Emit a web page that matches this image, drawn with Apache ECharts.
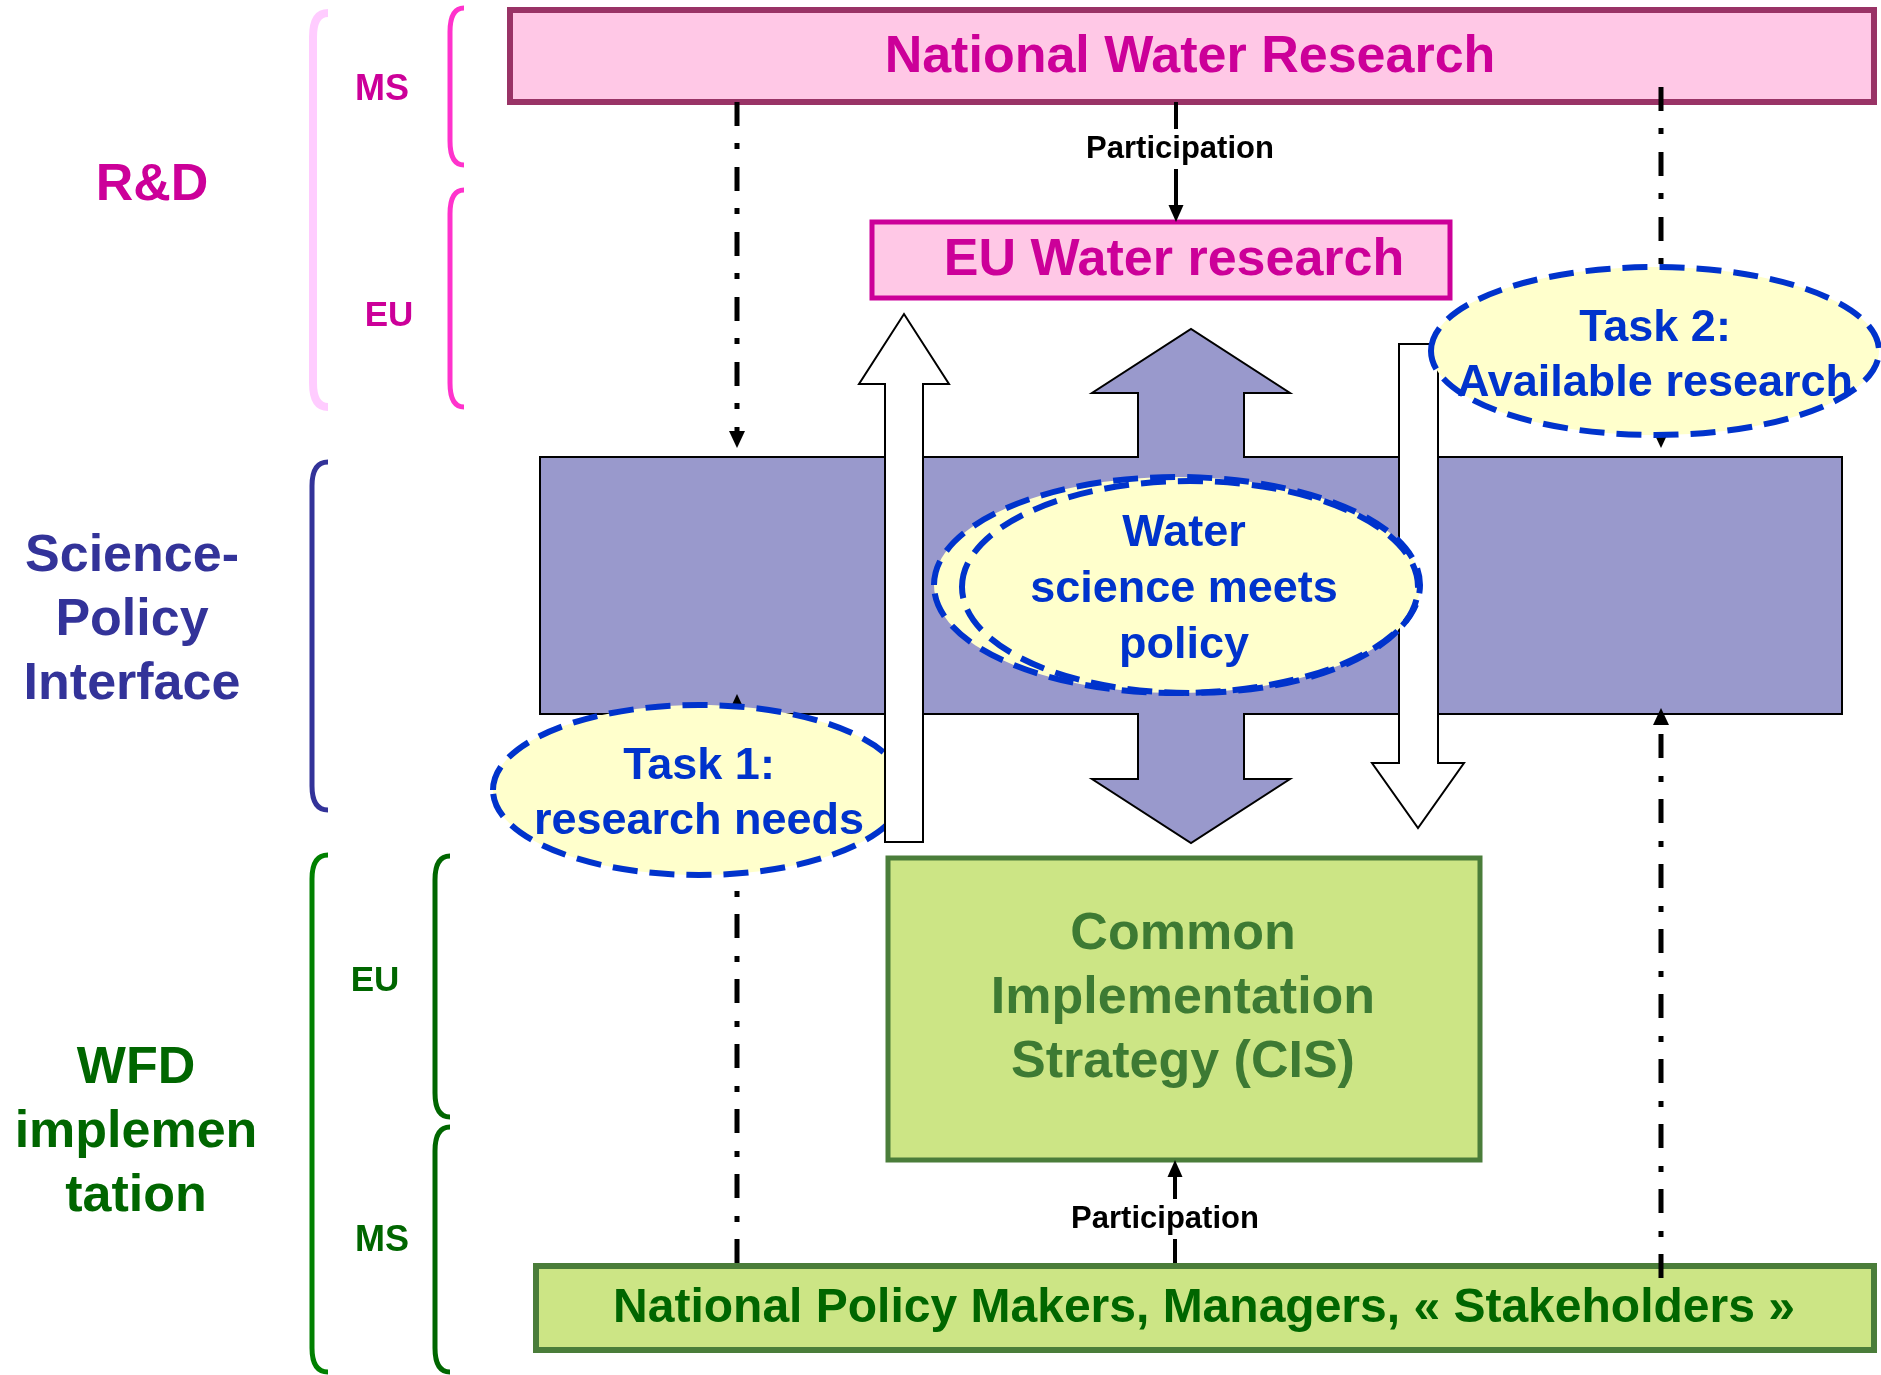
<!DOCTYPE html>
<html><head><meta charset="utf-8">
<script src="https://cdn.jsdelivr.net/npm/echarts@6/dist/echarts.min.js"></script>
<style>html,body{margin:0;padding:0;background:#fff}#c{width:1881px;height:1375px}</style>
</head><body><div id="c"></div>
<script>
// ---------- diagram data (diagram units on hidden value axes) ----------
const xExtent = [0, 1881];
const yExtent = [0, 1375];

// labelled boxes: [x0, y0, x1, y1]
const boxNames = ['National Water Research', 'EU Water research', 'Common\nImplementation\nStrategy (CIS)', 'National Policy Makers, Managers, « Stakeholders »'];
const boxExtents = [[510, 10, 1874, 102], [872, 222, 1450, 298], [888, 858, 1480, 1160], [536, 1266, 1874, 1350]];
const boxTextAnchors = [[1190, 58], [1174, 261], [1183, 999], [1204, 1309]];

// science-policy band with the double arrow through it (outline vertices)
const bandOutline = [[540, 457], [1138, 457], [1138, 393], [1092, 393], [1191, 329], [1290, 393], [1244, 393], [1244, 457], [1842, 457], [1842, 714], [1244, 714], [1244, 779], [1290, 779], [1191, 843], [1092, 779], [1138, 779], [1138, 714], [540, 714]];

// white block arrows: [shaftLeft, shaftRight, tail, headBase, headLeft, headRight, tip]
const whiteArrows = [[885, 923, 842, 384, 859, 949, 314], [1399, 1438, 344, 763, 1372, 1464, 828]];

// dash-dot arrows: [x, from, tip]
const dashArrows = [[737, 102, 448], [737, 1263, 694], [1661, 87, 448], [1661, 1278, 708]];

// participation arrows: [x, from, tip]
const participationArrows = [[1176, 102, 222], [1175, 1263, 1160]];
const participationLabels = ['Participation', 'Participation'];
const participationAnchors = [[1180, 149], [1165, 1219]];

// ellipses: [cx, cy, rx, ry]
const ellipseShapes = [[1177, 585, 243, 108], [1190, 587, 228, 106], [1655, 351, 224, 84], [699, 790, 206, 85]];
const ellipseTexts = ['Water\nscience meets\npolicy', '', 'Task 2:\nAvailable research', 'Task 1:\nresearch needs'];
const ellipseTextAnchors = [[1184, 590], [1184, 590], [1655, 356], [699, 794]];

// side braces: [lineX, top, bottom, endX]
const braces = [[313, 13, 407, 328], [450, 8, 165, 464], [450, 190, 407, 464], [312, 462, 810, 328], [312, 855, 1372, 328], [435, 856, 1117, 450], [435, 1127, 1372, 450]];

// side labels
const sideLabels = ['R&D', 'MS', 'EU', 'Science-\nPolicy\nInterface', 'WFD\nimplemen\ntation', 'EU', 'MS'];
const sideLabelAnchors = [[152, 186], [382, 90], [389, 316], [132, 621], [136, 1133], [375, 981], [382, 1241]];

// ---------- styles ----------
const FONT = '"Liberation Sans", Arial, Helvetica, sans-serif';
const boxStyles = [
  { fill: '#ffc8e6', stroke: '#993366', lw: 6, color: '#cc0099', fs: 52, lh: 60 },
  { fill: '#ffc8e6', stroke: '#cc0099', lw: 5, color: '#cc0099', fs: 52, lh: 60 },
  { fill: '#cce585', stroke: '#4a7d3a', lw: 5, color: '#3d7a33', fs: 52, lh: 64 },
  { fill: '#cce585', stroke: '#4a7d3a', lw: 6, color: '#006600', fs: 48, lh: 56 }
];
const braceColors = ['#ffccff', '#ff33cc', '#ff33cc', '#333399', '#008000', '#006600', '#006600'];
const braceWidths = [8, 5, 5, 5, 5, 5, 5];
const sideColors = ['#cc0099', '#cc0099', '#cc0099', '#333399', '#006600', '#006600', '#006600'];
const sideSizes = [52, 36, 35, 52, 52, 35, 36];

function withIndex(rows) { return rows.map((r, i) => [i].concat(r)); }
function txt(p, text, fill, size, lh, extra) {
  return {
    type: 'text', x: p[0], y: p[1],
    style: Object.assign({ text: text, fill: fill, fontSize: size, fontWeight: 'bold', fontFamily: FONT, align: 'center', verticalAlign: 'middle', lineHeight: lh || size * 1.2 }, extra || {})
  };
}
function arrowHead(api, x, tip, dir, w, len, color) {
  const a = api.coord([x, tip]);
  const b = api.coord([x - w / 2, tip - dir * len]);
  const c = api.coord([x + w / 2, tip - dir * len]);
  return { type: 'polygon', shape: { points: [a, b, c] }, style: { fill: color } };
}
function renderWhiteArrow(params, api) {
  const sL = api.value(1), sR = api.value(2), tail = api.value(3), hb = api.value(4), hL = api.value(5), hR = api.value(6), tip = api.value(7);
  const pts = [[sL, tail], [sL, hb], [hL, hb], [(hL + hR) / 2, tip], [hR, hb], [sR, hb], [sR, tail]].map(p => api.coord(p));
  return { type: 'polygon', shape: { points: pts }, style: { fill: '#ffffff', stroke: '#000', lineWidth: 2 } };
}

const chart = echarts.init(document.getElementById('c'), null, { renderer: 'canvas', width: 1881, height: 1375 });
const base = { type: 'custom', silent: true, encode: { x: 1, y: 2 }, clip: false };

chart.setOption({
  animation: false,
  backgroundColor: '#ffffff',
  grid: { left: 0, right: 0, top: 0, bottom: 0 },
  xAxis: { type: 'value', min: xExtent[0], max: xExtent[1], show: false },
  yAxis: { type: 'value', min: yExtent[0], max: yExtent[1], inverse: true, show: false },
  series: [
    Object.assign({}, base, {
      z: 1,
      data: [[0, bandOutline[0][0], bandOutline[0][1]]],
      renderItem: function (params, api) {
        return { type: 'polygon', shape: { points: bandOutline.map(p => api.coord(p)) }, style: { fill: '#9999cc', stroke: '#000', lineWidth: 2 } };
      }
    }),
    Object.assign({}, base, {
      z: 2,
      data: withIndex(boxExtents),
      renderItem: function (params, api) {
        const i = api.value(0);
        const a = api.coord([api.value(1), api.value(2)]);
        const b = api.coord([api.value(3), api.value(4)]);
        const st = boxStyles[i];
        return {
          type: 'group', children: [
            { type: 'rect', shape: { x: a[0], y: a[1], width: b[0] - a[0], height: b[1] - a[1] }, style: { fill: st.fill, stroke: st.stroke, lineWidth: st.lw } },
            txt(api.coord(boxTextAnchors[i]), boxNames[i], st.color, st.fs, st.lh)
          ]
        };
      }
    }),
    Object.assign({}, base, {
      z: 2,
      data: withIndex(braces),
      renderItem: function (params, api) {
        const i = api.value(0);
        const xl = api.value(1), yt = api.value(2), yb = api.value(3), xe = api.value(4);
        const r = 24;
        const a = api.coord([xe, yt]), c1 = api.coord([xl, yt]), b = api.coord([xl, yt + r]);
        const d = api.coord([xl, yb - r]), c2 = api.coord([xl, yb]), e = api.coord([xe, yb]);
        const pd = 'M' + a[0] + ' ' + a[1] + ' Q' + c1[0] + ' ' + c1[1] + ' ' + b[0] + ' ' + b[1] + ' L' + d[0] + ' ' + d[1] + ' Q' + c2[0] + ' ' + c2[1] + ' ' + e[0] + ' ' + e[1];
        return { type: 'path', shape: { pathData: pd }, style: { fill: 'none', stroke: braceColors[i], lineWidth: braceWidths[i] } };
      }
    }),
    Object.assign({}, base, {
      z: 2,
      data: withIndex(sideLabelAnchors),
      renderItem: function (params, api) {
        const i = api.value(0);
        return txt(api.coord([api.value(1), api.value(2)]), sideLabels[i], sideColors[i], sideSizes[i], 64);
      }
    }),
    Object.assign({}, base, {
      z: 3,
      data: withIndex(dashArrows),
      renderItem: function (params, api) {
        const x = api.value(1), from = api.value(2), tip = api.value(3);
        const dir = tip > from ? 1 : -1;
        const len = 17;
        const p = api.coord([x, from]), q = api.coord([x, tip - dir * len]);
        return {
          type: 'group', children: [
            { type: 'line', shape: { x1: p[0], y1: p[1], x2: q[0], y2: q[1] }, style: { stroke: '#000', lineWidth: 5, lineDash: [24, 17, 6, 18] } },
            arrowHead(api, x, tip, dir, 16, len, '#000')
          ]
        };
      }
    }),
    Object.assign({}, base, {
      z: 3,
      data: withIndex(participationArrows),
      renderItem: function (params, api) {
        const i = api.value(0);
        const x = api.value(1), from = api.value(2), tip = api.value(3);
        const dir = tip > from ? 1 : -1;
        const len = 17;
        const p = api.coord([x, from]), q = api.coord([x, tip - dir * len]);
        return {
          type: 'group', children: [
            { type: 'line', shape: { x1: p[0], y1: p[1], x2: q[0], y2: q[1] }, style: { stroke: '#000', lineWidth: 4 } },
            arrowHead(api, x, tip, dir, 15, len, '#000'),
            txt(api.coord(participationAnchors[i]), participationLabels[i], '#000', 31, 34, { backgroundColor: '#fff', padding: [3, 4] })
          ]
        };
      }
    }),
    Object.assign({}, base, {
      z: 4,
      data: withIndex(whiteArrows).filter(r => r[0] === 1),
      renderItem: renderWhiteArrow
    }),
    Object.assign({}, base, {
      z: 5,
      data: withIndex(ellipseShapes),
      renderItem: function (params, api) {
        const i = api.value(0);
        const c = api.coord([api.value(1), api.value(2)]);
        const e = api.coord([api.value(1) + api.value(3), api.value(2) + api.value(4)]);
        const children = [{
          type: 'ellipse', shape: { cx: c[0], cy: c[1], rx: Math.abs(e[0] - c[0]), ry: Math.abs(e[1] - c[1]) },
          style: { fill: i === 1 ? 'none' : '#ffffcc', stroke: '#0033cc', lineWidth: 6, lineDash: [25, 12] }
        }];
        if (ellipseTexts[i]) children.push(txt(api.coord(ellipseTextAnchors[i]), ellipseTexts[i], '#0033cc', 45, i === 0 ? 56 : 55));
        return { type: 'group', children: children };
      }
    }),
    Object.assign({}, base, {
      z: 6,
      data: withIndex(whiteArrows).filter(r => r[0] === 0),
      renderItem: renderWhiteArrow
    })
  ]
});
</script>
</body></html>
